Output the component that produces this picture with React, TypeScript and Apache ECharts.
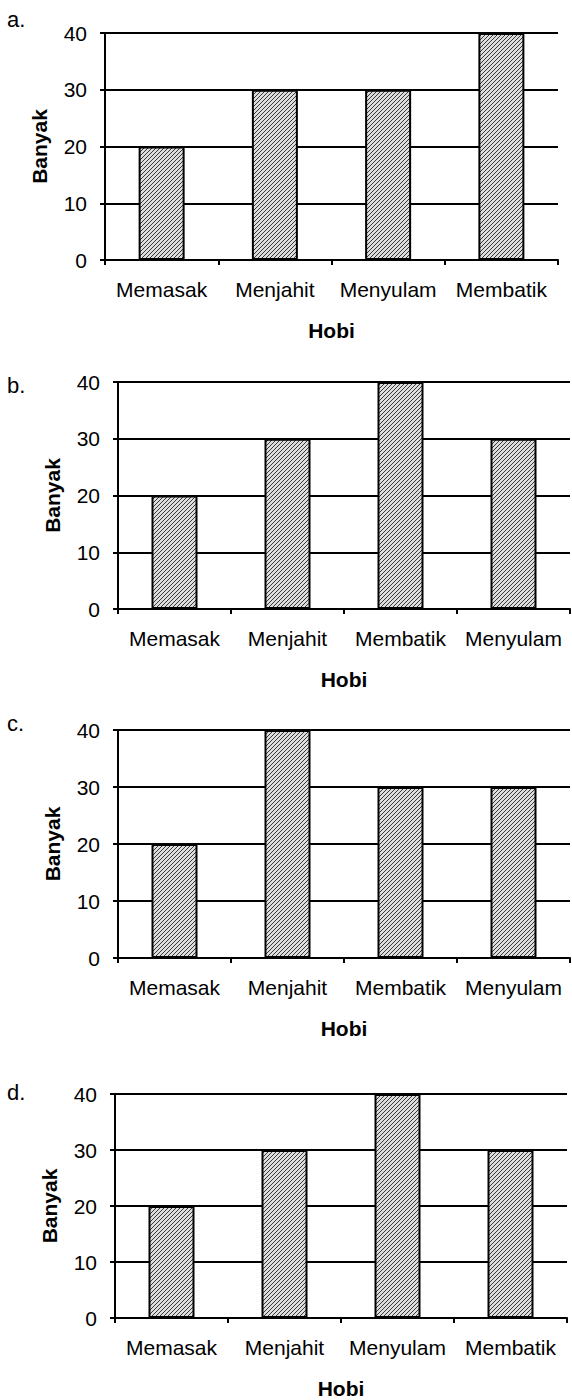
import React, { useEffect, useRef } from "react";
import * as echarts from "echarts";

// ---- data ----
const hobbiesA = ["Memasak", "Menjahit", "Menyulam", "Membatik"];
const valuesA = [20, 30, 30, 40];
const hobbiesB = ["Memasak", "Menjahit", "Membatik", "Menyulam"];
const valuesB = [20, 30, 40, 30];
const hobbiesC = ["Memasak", "Menjahit", "Membatik", "Menyulam"];
const valuesC = [20, 40, 30, 30];
const hobbiesD = ["Memasak", "Menjahit", "Menyulam", "Membatik"];
const valuesD = [20, 30, 40, 30];
const panelLabels = ["a.", "b.", "c.", "d."];
const yAxisName = "Banyak";
const xAxisName = "Hobi";
const yMin = 0;
const yMax = 40;
const yStep = 10;

const panels = [
  { cats: hobbiesA, vals: valuesA },
  { cats: hobbiesB, vals: valuesB },
  { cats: hobbiesC, vals: valuesC },
  { cats: hobbiesD, vals: valuesD },
];

// ---- layout ----
const layout = [
  { left: 105, top: 33, width: 453, height: 227, labelY: 20 },
  { left: 118, top: 382, width: 452, height: 227, labelY: 386 },
  { left: 118, top: 730, width: 452, height: 228, labelY: 724 },
  { left: 115, top: 1094, width: 452, height: 228, labelY: 1093 },
];

const FONT = '"Liberation Sans", Arial, Helvetica, sans-serif';

function makeHatch(): HTMLCanvasElement {
  const n = 4;
  const c = document.createElement("canvas");
  c.width = n;
  c.height = n;
  const ctx = c.getContext("2d")!;
  ctx.fillStyle = "#dddddd";
  ctx.fillRect(0, 0, n, n);
  ctx.fillStyle = "#383838";
  for (let k = 0; k < n; k++) ctx.fillRect(n - 1 - k, k, 1, 1);
  return c;
}

export default function App() {
  const ref = useRef<HTMLDivElement>(null);

  useEffect(() => {
    if (!ref.current) return;
    const chart = echarts.init(ref.current, null, { renderer: "svg" });
    const hatch = makeHatch();
    const pattern: any = {
      image: hatch,
      repeat: "repeat",
      imageWidth: 4,
      imageHeight: 4,
    };

    const black = "#000";
    const grids = layout.map((l) => ({
      left: l.left,
      top: l.top,
      width: l.width,
      height: l.height,
      containLabel: false,
    }));

    const xAxes = panels.map((p, i) => ({
      type: "category",
      gridIndex: i,
      data: p.cats,
      axisLine: { show: true, lineStyle: { color: black, width: 2 } },
      axisTick: { show: true, length: 5, lineStyle: { color: black, width: 2 } },
      axisLabel: {
        color: black,
        fontSize: 21,
        fontFamily: FONT,
        margin: 19,
        interval: 0,
      },
      splitLine: { show: false },
      name: xAxisName,
      nameLocation: "middle",
      nameGap: 60,
      nameTextStyle: {
        color: black,
        fontSize: 21,
        fontWeight: "bold",
        fontFamily: FONT,
      },
    }));

    const yAxes = panels.map((_, i) => ({
      type: "value",
      gridIndex: i,
      min: yMin,
      max: yMax,
      interval: yStep,
      axisLine: { show: true, lineStyle: { color: black, width: 2 } },
      axisTick: { show: true, length: 5, lineStyle: { color: black, width: 2 } },
      splitLine: { show: true, lineStyle: { color: black, width: 2 } },
      axisLabel: {
        color: black,
        fontSize: 21,
        fontFamily: FONT,
        margin: 18,
      },
      name: yAxisName,
      nameLocation: "middle",
      nameGap: 55,
      nameRotate: 90,
      nameTextStyle: {
        color: black,
        fontSize: 21,
        fontWeight: "bold",
        fontFamily: FONT,
      },
    }));

    const series = panels.map((p, i) => ({
      type: "bar",
      xAxisIndex: i,
      yAxisIndex: i,
      data: p.vals,
      barWidth: 46,
      silent: true,
      itemStyle: {
        color: pattern,
        borderColor: black,
        borderWidth: 2,
      },
    }));

    const graphic = panelLabels.map((t, i) => ({
      type: "text",
      left: 7,
      top: layout[i].labelY - 12,
      style: {
        text: t,
        fontSize: 22,
        fontFamily: FONT,
        fill: black,
      },
    }));

    chart.setOption({
      animation: false,
      backgroundColor: "#fff",
      grid: grids,
      xAxis: xAxes,
      yAxis: yAxes,
      series,
      graphic,
    } as any);

    return () => {
      chart.dispose();
    };
  }, []);

  return (
    <div
      ref={ref}
      style={{
        position: "absolute",
        left: 0,
        top: 0,
        width: 572,
        height: 1400,
        background: "#fff",
      }}
    />
  );
}
